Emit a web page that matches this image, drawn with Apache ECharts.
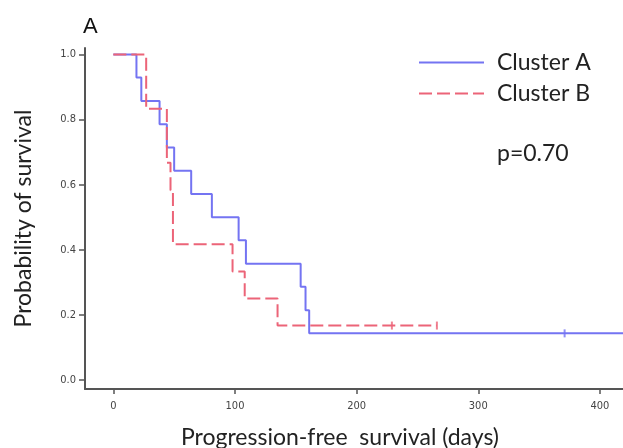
<!DOCTYPE html>
<html style="height: 100%;width:100%">
<head>
	<meta charset="utf-8">
</head>
<body style="height: 100%; width:100%; margin:0">
	<div id="chart-panel" style="height: 448px;width: 623px"></div>
	<script type="text/javascript" src="https://cdn.jsdelivr.net/npm/echarts@6/dist/echarts.min.js"></script>
	<script type="text/javascript">
		// Kaplan-Meier steps
		var clusterADays = [0, 19, 23, 38, 44, 50, 64, 81, 103, 109, 154, 158, 161, 425];
		var clusterASurv = [1, 0.929, 0.857, 0.786, 0.714, 0.643, 0.571, 0.5, 0.429, 0.357, 0.286, 0.214, 0.143, 0.143];
		var clusterBDays = [0, 27, 44, 47, 49, 98, 108, 135, 266];
		var clusterBSurv = [1, 0.833, 0.667, 0.583, 0.417, 0.333, 0.25, 0.167, 0.167];
		// censored observations
		var censorADays = [371];
		var censorASurv = [0.143];
		var censorBDays = [229, 266];
		var censorBSurv = [0.167, 0.167];
		var xTicks = [0, 100, 200, 300, 400];
		var yTicks = [0, 0.2, 0.4, 0.6, 0.8, 1.0];

		var blue = '#7474f2';
		var red = '#ec6478';
		var tickFont = "'Liberation Sans Narrow', 'DejaVu Sans Condensed', sans-serif";
		var titleFont = "Lato, 'Open Sans', sans-serif";

		function pairs(xs, ys) {
			return xs.map(function (x, i) { return [x, ys[i]]; });
		}

		var myChart = echarts.init(document.getElementById('chart-panel'));
		var option = {
			backgroundColor: '#ffffff',
			animation: false,
			title: [{
				text: 'A',
				left: 78,
				top: 11,
				textStyle: { fontFamily: "'Liberation Sans', Arial, sans-serif", fontWeight: 'normal', fontSize: 22, color: '#111' }
			}, {
				text: 'p=0.70',
				left: 492,
				top: 137,
				textStyle: { fontFamily: titleFont, fontWeight: 'normal', fontSize: 23, color: '#222' }
			}],
			legend: {
				orient: 'vertical',
				left: 418,
				top: 51,
				padding: 0,
				itemWidth: 65,
				itemHeight: 14,
				itemGap: 8,
				itemStyle: { opacity: 0 },
				textStyle: { fontFamily: titleFont, fontSize: 23, color: '#222', padding: [0, 0, 0, 8] },
				data: ['Cluster A', 'Cluster B']
			},
			grid: {
				left: 85,
				right: 0,
				top: 48,
				bottom: 59,
				outerBoundsMode: 'none'
			},
			xAxis: {
				type: 'value',
				min: -23.3,
				max: 419,
				name: 'Progression-free  survival (days)',
				nameLocation: 'middle',
				nameGap: 37,
				nameTextStyle: { fontFamily: titleFont, fontSize: 23, color: '#222', padding: [0, 28, 0, 0] },
				axisLine: { onZero: false, lineStyle: { color: '#555', width: 2 } },
				axisTick: { customValues: xTicks, length: 5, lineStyle: { color: '#555', width: 1.5 } },
				axisLabel: { customValues: xTicks, fontFamily: tickFont, fontSize: 11, color: '#444', margin: 12 },
				splitLine: { show: false }
			},
			yAxis: {
				type: 'value',
				min: -0.028,
				max: 1.02,
				name: 'Probability of survival',
				nameLocation: 'middle',
				nameGap: 50,
				nameTextStyle: { fontFamily: titleFont, fontSize: 23, color: '#222' },
				axisLine: { show: true, onZero: false, lineStyle: { color: '#555', width: 2 } },
				axisTick: { show: true, customValues: yTicks, length: 6, lineStyle: { color: '#555', width: 1.5 } },
				axisLabel: {
					customValues: yTicks,
					fontFamily: tickFont,
					fontSize: 11,
					color: '#444',
					margin: 9,
					formatter: function (v) { return v.toFixed(1); }
				},
				splitLine: { show: false }
			},
			series: [{
				name: 'Cluster A',
				type: 'line',
				step: 'end',
				symbol: 'none',
				z: 3,
				lineStyle: { color: blue, width: 2 },
				itemStyle: { color: blue },
				data: pairs(clusterADays, clusterASurv)
			}, {
				name: 'Cluster B',
				type: 'line',
				step: 'end',
				symbol: 'none',
				z: 4,
				lineStyle: { color: red, width: 2, type: [13, 5] },
				itemStyle: { color: red },
				data: pairs(clusterBDays, clusterBSurv)
			}, {
				name: 'censor A',
				type: 'scatter',
				symbol: 'rect',
				symbolSize: [2, 8],
				itemStyle: { color: blue },
				data: pairs(censorADays, censorASurv)
			}, {
				name: 'censor B',
				type: 'scatter',
				symbol: 'rect',
				symbolSize: [2, 8],
				itemStyle: { color: red },
				data: pairs(censorBDays, censorBSurv)
			}]
		};
		myChart.setOption(option);
	</script>
</body>
</html>
